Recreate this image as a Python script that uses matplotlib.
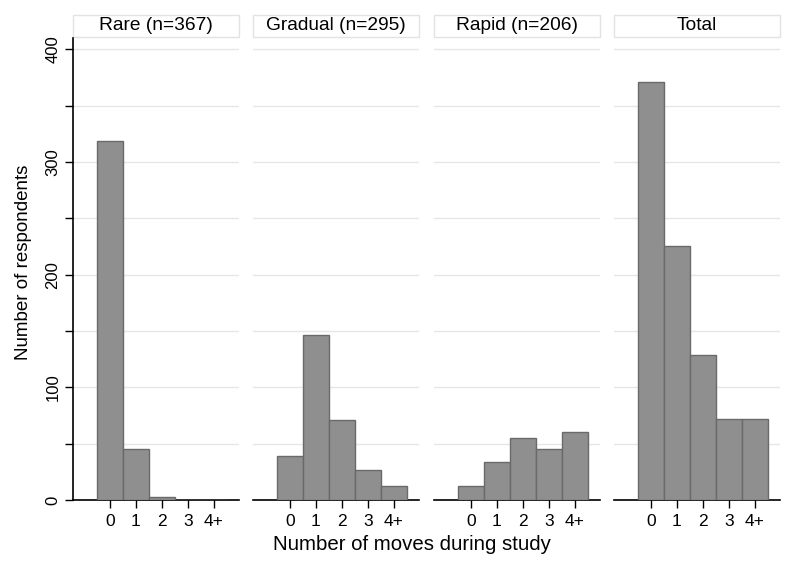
import numpy as np
import matplotlib.pyplot as plt
from matplotlib.patches import Rectangle

plt.rcParams['font.family'] = ['Liberation Sans', 'DejaVu Sans']

categories = ["0", "1", "2", "3", "4+"]
panel_titles = ["Rare (n=367)", "Gradual (n=295)", "Rapid (n=206)", "Total"]
rare = [319, 45, 3, 0, 0]
gradual = [39, 146, 71, 27, 12]
rapid = [12, 34, 55, 45, 60]
total = [371, 225, 129, 72, 72]
series = [rare, gradual, rapid, total]

W, H = 800, 568
fig = plt.figure(figsize=(8, 5.68), dpi=100)

lefts = [73, 253, 434, 614]
pw = 166
top, bot = 38, 500

x = np.arange(len(categories))
for i, (vals, title) in enumerate(zip(series, panel_titles)):
    ax = fig.add_axes([lefts[i] / W, 1 - bot / H, pw / W, (bot - top) / H])
    ax.bar(x, vals, width=1.0, color="#8f8f8f", edgecolor="#6a6a6a", linewidth=1.0, zorder=3)
    ax.set_xlim(-1.42, 4.96)
    ax.set_ylim(0, 410)
    ax.set_xticks(x)
    ax.set_xticklabels(categories, fontsize=12.5)
    ax.tick_params(axis="x", length=6, width=1, pad=4, color="black")
    ax.set_yticks(np.arange(0, 401, 50))
    ax.grid(axis="y", color="#e6e6e6", linewidth=1, zorder=0)
    for s in ["top", "right"]:
        ax.spines[s].set_visible(False)
    ax.spines["bottom"].set_color("black")
    ax.spines["bottom"].set_linewidth(1.2)
    if i == 0:
        ax.spines["left"].set_color("black")
        ax.spines["left"].set_linewidth(1.2)
        ax.set_yticklabels([str(v) if v % 100 == 0 else "" for v in range(0, 401, 50)],
                           fontsize=12, rotation=90, va="center")
        ax.tick_params(axis="y", length=6, width=1, pad=3)
    else:
        ax.spines["left"].set_visible(False)
        ax.tick_params(axis="y", left=False, labelleft=False)

    # strip title box
    h = bot - top
    ax.add_patch(Rectangle((0, (bot - 37) / h), 1, 22 / h, transform=ax.transAxes,
                           facecolor="white", edgecolor="#e2e2e2", linewidth=1,
                           clip_on=False))
    ax.text(0.5, (bot - 26) / h, title, transform=ax.transAxes, ha="center",
            va="center", fontsize=13.8)

fig.text(412 / W, 1 - 545 / H, "Number of moves during study", ha="center",
         va="center", fontsize=14.7)
fig.text(24 / W, 1 - 262 / H, "Number of respondents", ha="center", va="center",
         rotation=90, fontsize=13.5)

fig.savefig("out.png", dpi=100)
